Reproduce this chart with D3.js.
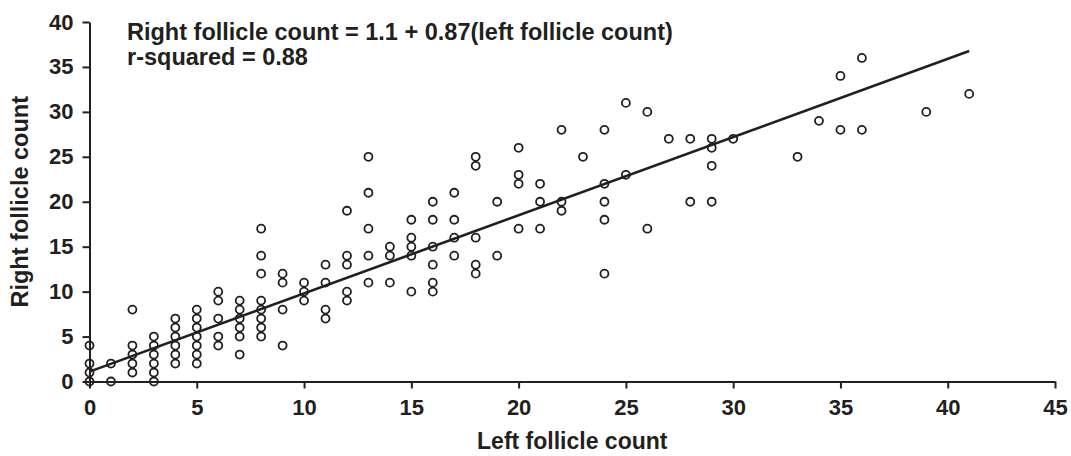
<!DOCTYPE html>
<html>
<head>
<meta charset="utf-8">
<script src="https://cdn.jsdelivr.net/npm/d3@7"></script>
<style>
  body { margin: 0; background: #fff; }
  svg { display: block; }
</style>
</head>
<body>
<script>
// left / right follicle counts, one entry per subject
var leftCounts = [
    0, 0, 0, 0,
    1, 1,
    2, 2, 2, 2, 2,
    3, 3, 3, 3, 3, 3,
    4, 4, 4, 4, 4, 4,
    5, 5, 5, 5, 5, 5, 5,
    6, 6, 6, 6, 6,
    7, 7, 7, 7, 7, 7,
    8, 8, 8, 8, 8, 8, 8, 8,
    9, 9, 9, 9,
    10, 10, 10,
    11, 11, 11, 11,
    12, 12, 12, 12, 12,
    13, 13, 13, 13, 13,
    14, 14, 14,
    15, 15, 15, 15, 15,
    16, 16, 16, 16, 16, 16,
    17, 17, 17, 17,
    18, 18, 18, 18, 18,
    19, 19,
    20, 20, 20, 20,
    21, 21, 21,
    22, 22, 22,
    23,
    24, 24, 24, 24, 24,
    25, 25,
    26, 26,
    27,
    28, 28,
    29, 29, 29, 29,
    30,
    33, 34, 35, 35, 36, 36, 39, 41
];
var rightCounts = [
    0, 1, 2, 4,
    0, 2,
    1, 2, 3, 4, 8,
    0, 1, 2, 3, 4, 5,
    2, 3, 4, 5, 6, 7,
    2, 3, 4, 5, 6, 7, 8,
    4, 5, 7, 9, 10,
    3, 5, 6, 7, 8, 9,
    5, 6, 7, 8, 9, 12, 14, 17,
    4, 8, 11, 12,
    9, 10, 11,
    7, 8, 11, 13,
    9, 10, 13, 14, 19,
    11, 14, 17, 21, 25,
    11, 14, 15,
    10, 14, 15, 16, 18,
    10, 11, 13, 15, 18, 20,
    14, 16, 18, 21,
    12, 13, 16, 24, 25,
    14, 20,
    17, 22, 23, 26,
    17, 20, 22,
    19, 20, 28,
    25,
    12, 18, 20, 22, 28,
    23, 31,
    17, 30,
    27,
    20, 27,
    20, 24, 26, 27,
    27,
    25, 29, 28, 34, 28, 36, 30, 32
];
var xTicks = [0, 5, 10, 15, 20, 25, 30, 35, 40, 45];
var yTicks = [0, 5, 10, 15, 20, 25, 30, 35, 40];
var fitIntercept = 1.1;
var fitSlope = 0.87;
var fitRange = [0, 41];
var annotation = [
    "Right follicle count = 1.1 + 0.87(left follicle count)",
    "r-squared = 0.88"
];

var width = 1071;
var height = 456;
var margin = {top: 22, right: 16, bottom: 74.5, left: 89.5};
var ink = "#231f20";
var fontFamily = "'Liberation Sans', Arial, Helvetica, sans-serif";

var points = leftCounts.map((d, i) => ({x: d, y: rightCounts[i]}));

var x = d3.scaleLinear()
    .domain([0, 45])
    .range([margin.left, width - margin.right]);
var y = d3.scaleLinear()
    .domain([0, 40])
    .range([height - margin.bottom, margin.top]);

var svg = d3.select("body").append("svg")
    .attr("width", width)
    .attr("height", height)
    .style("font-family", fontFamily);

// axes
var xAxis = svg.append("g")
    .attr("transform", `translate(0,${y(0)})`)
    .call(d3.axisBottom(x).tickValues(xTicks).tickSize(7).tickPadding(11).tickSizeOuter(0));
var yAxis = svg.append("g")
    .attr("transform", `translate(${x(0)},0)`)
    .call(d3.axisLeft(y).tickValues(yTicks).tickSize(7).tickPadding(9).tickSizeOuter(0));

[xAxis, yAxis].forEach(function(g) {
    g.select(".domain").attr("stroke", ink).attr("stroke-width", 2);
    g.selectAll(".tick line").attr("stroke", ink).attr("stroke-width", 2);
    g.selectAll(".tick text")
        .attr("fill", ink)
        .style("font-size", "22px")
        .style("font-weight", "bold")
        .style("font-family", fontFamily);
});

// regression line
svg.append("line")
    .attr("x1", x(fitRange[0]))
    .attr("y1", y(fitIntercept + fitSlope * fitRange[0]))
    .attr("x2", x(fitRange[1]))
    .attr("y2", y(fitIntercept + fitSlope * fitRange[1]))
    .attr("stroke", ink)
    .attr("stroke-width", 2.6);

// points
svg.append("g")
    .selectAll("circle")
    .data(points)
    .join("circle")
    .attr("cx", d => x(d.x))
    .attr("cy", d => y(d.y))
    .attr("r", 4)
    .attr("fill", "none")
    .attr("stroke", ink)
    .attr("stroke-width", 1.8);

// equation text
svg.append("g")
    .selectAll("text")
    .data(annotation)
    .join("text")
    .attr("x", 127)
    .attr("y", (d, i) => 39.5 + i * 25.5)
    .attr("fill", ink)
    .style("font-size", "23.5px")
    .style("font-weight", "bold")
    .text(d => d);

// axis titles
svg.append("text")
    .attr("x", (x(0) + x(45)) / 2)
    .attr("y", 449)
    .attr("text-anchor", "middle")
    .attr("fill", ink)
    .style("font-size", "23px")
    .style("font-weight", "bold")
    .text("Left follicle count");

svg.append("text")
    .attr("transform", `translate(28,${(y(0) + y(40)) / 2}) rotate(-90)`)
    .attr("text-anchor", "middle")
    .attr("fill", ink)
    .style("font-size", "23.5px")
    .style("font-weight", "bold")
    .text("Right follicle count");
</script>
</body>
</html>
